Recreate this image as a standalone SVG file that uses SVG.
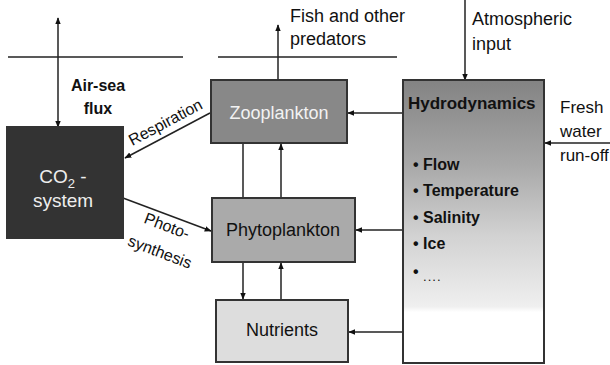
<svg xmlns="http://www.w3.org/2000/svg" width="610" height="365" viewBox="0 0 610 365">
<style>
text{font-family:"Liberation Sans",Arial,sans-serif;}
.lbl{font-size:18px;fill:#111;}
.b{font-weight:bold;}
.ln{stroke:#222;stroke-width:1.5;fill:none;}
.box{stroke:#333;stroke-width:2;}
</style>
<defs>
<marker id="ah" viewBox="0 0 10 10" refX="9" refY="5" markerWidth="7" markerHeight="7" orient="auto-start-reverse" markerUnits="userSpaceOnUse">
<path d="M0,1 L10,5 L0,9 z" fill="#111"/>
</marker>
<linearGradient id="hg" x1="0" y1="0" x2="0" y2="1">
<stop offset="0" stop-color="#838383"/>
<stop offset="0.3" stop-color="#a8a8a8"/>
<stop offset="0.55" stop-color="#d2d2d2"/>
<stop offset="0.8" stop-color="#efefef"/>
<stop offset="0.82" stop-color="#fff"/>
<stop offset="1" stop-color="#fff"/>
</linearGradient>
</defs>
<rect width="610" height="365" fill="#fff"/>
<g id="surface">
<line x1="8" y1="57" x2="183" y2="57" class="ln"/>
<line x1="218" y1="57" x2="397" y2="57" class="ln"/>
</g>
<g id="connectors">
<line x1="58" y1="127" x2="58" y2="18" class="ln" marker-start="url(#ah)" marker-end="url(#ah)"/>
<line x1="278" y1="80" x2="278" y2="25" class="ln" marker-end="url(#ah)"/>
<line x1="465" y1="0" x2="465" y2="80" class="ln" marker-end="url(#ah)"/>
<line x1="610" y1="143" x2="545" y2="143" class="ln" marker-end="url(#ah)"/>
<line x1="403" y1="113" x2="348" y2="113" class="ln" marker-end="url(#ah)"/>
<line x1="403" y1="230" x2="356" y2="230" class="ln" marker-end="url(#ah)"/>
<line x1="403" y1="332" x2="349" y2="332" class="ln" marker-end="url(#ah)"/>
<line x1="243" y1="143" x2="243" y2="198" class="ln"/>
<line x1="281" y1="198" x2="281" y2="144" class="ln" marker-end="url(#ah)"/>
<line x1="243" y1="262" x2="243" y2="299" class="ln" marker-end="url(#ah)"/>
<line x1="281" y1="300" x2="281" y2="263" class="ln" marker-end="url(#ah)"/>
<line x1="210" y1="113" x2="125" y2="158" class="ln" marker-end="url(#ah)"/>
<line x1="123" y1="198" x2="211" y2="231" class="ln" marker-end="url(#ah)"/>
</g>
<g id="co2">
<rect x="7" y="127" width="116" height="111" fill="#333" class="box" stroke="#222"/>
<text x="63" y="183" text-anchor="middle" font-size="19" fill="#eee">CO<tspan font-size="13" dy="5">2</tspan><tspan dy="-5"> -</tspan></text>
<text x="63" y="207" text-anchor="middle" font-size="19" fill="#eee">system</text>
</g>
<g id="airsea">
<text x="98" y="91" text-anchor="middle" font-size="16" class="b" fill="#111">Air-sea</text>
<text x="98" y="114" text-anchor="middle" font-size="16" class="b" fill="#111">flux</text>
</g>
<g id="zooplankton">
<rect x="211" y="80" width="136" height="63" fill="#888" class="box"/>
<text x="279" y="119" text-anchor="middle" font-size="18" fill="#f2f2f2">Zooplankton</text>
</g>
<g id="phytoplankton">
<rect x="212" y="198" width="143" height="64" fill="#aaa" class="box"/>
<text x="283" y="236" text-anchor="middle" font-size="18" fill="#111">Phytoplankton</text>
</g>
<g id="nutrients">
<rect x="216" y="300" width="132" height="62" fill="#ddd" class="box" stroke="#555"/>
<text x="282" y="336" text-anchor="middle" font-size="18" fill="#111">Nutrients</text>
</g>
<g id="hydrodynamics">
<rect x="403" y="80" width="141" height="283" fill="url(#hg)" class="box" stroke="#222"/>
<text x="408" y="109" font-size="17" class="b" fill="#111">Hydrodynamics</text>
<text x="413" y="170" font-size="16" class="b" fill="#111">• Flow</text>
<text x="413" y="196" font-size="16" class="b" fill="#111">• Temperature</text>
<text x="413" y="223" font-size="16" class="b" fill="#111">• Salinity</text>
<text x="413" y="249" font-size="16" class="b" fill="#111">• Ice</text>
<text x="413" y="277" font-size="16" class="b" fill="#111">• <tspan font-size="13" font-weight="normal" letter-spacing="1" dy="4">....</tspan></text>
</g>
<g id="labels">
<text x="290" y="22" class="lbl">Fish and other</text>
<text x="290" y="45" class="lbl">predators</text>
<text x="472" y="25" class="lbl">Atmospheric</text>
<text x="472" y="50" class="lbl">input</text>
<text x="560" y="113" font-size="17" fill="#111">Fresh</text>
<text x="560" y="137" font-size="17" fill="#111">water</text>
<text x="560" y="161" font-size="17" fill="#111">run-off</text>
<text transform="translate(168,127) rotate(-28)" text-anchor="middle" font-size="16" fill="#111">Respiration</text>
<text transform="translate(165,231) rotate(21)" text-anchor="middle" font-size="16" fill="#111">Photo-</text>
<text transform="translate(158,257) rotate(21)" text-anchor="middle" font-size="16" fill="#111">synthesis</text>
</g>
</svg>
